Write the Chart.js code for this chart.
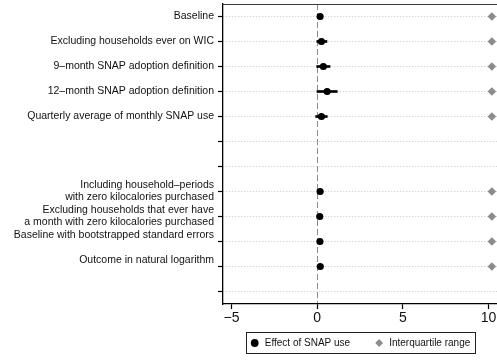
<!DOCTYPE html>
<html>
<head>
<meta charset="utf-8">
<script src="https://cdn.jsdelivr.net/npm/chart.js@4.4.0/dist/chart.umd.min.js"></script>
<style>
  html, body { margin: 0; padding: 0; background: #fff; }
  #wrap { width: 497px; height: 360px; position: relative; }
</style>
</head>
<body>
<div id="wrap"><canvas id="c" width="497" height="360"></canvas></div>
<script>
// Specifications, top to bottom (blank rows separate the two groups)
const rowLabels = [
  "Baseline",
  "Excluding households ever on WIC",
  "9–month SNAP adoption definition",
  "12–month SNAP adoption definition",
  "Quarterly average of monthly SNAP use",
  "",
  "",
  ["Including household–periods", "with zero kilocalories purchased"],
  ["Excluding households that ever have", "a month with zero kilocalories purchased"],
  ["Baseline with bootstrapped standard errors", ""],
  ["Outcome in natural logarithm", ""],
  ""
];

// Point estimates of the SNAP effect and their confidence bounds
const snapEffect = [0.17, 0.25, 0.36, 0.58, 0.25, null, null, 0.17, 0.15, 0.16, 0.18, null];
const ciLow      = [0.02, -0.02, -0.03, -0.01, -0.09, null, null, 0.00, -0.01, 0.01, 0.04, null];
const ciHigh     = [0.30, 0.57, 0.75, 1.17, 0.59, null, null, 0.33, 0.31, 0.31, 0.32, null];

// Interquartile range of the outcome, shown for scale
const iqrValues  = [10.2, 10.2, 10.2, 10.2, 10.2, null, null, 10.2, 10.2, 10.2, 10.2, null];

const xTicks = [-5, 0, 5, 10];

const FONT = '"Liberation Sans", Arial, Helvetica, sans-serif';
Chart.defaults.font.family = FONT;

const ciRanges = ciLow.map((lo, i) => (lo === null ? null : [lo, ciHigh[i]]));

// Centers the legend under the plot region, frames it, and closes the top of the plot
const framePlugin = {
  id: 'framePlugin',
  afterLayout(chart) {
    const lg = chart.legend;
    const a = chart.chartArea;
    if (!lg) return;
    // same center as the plot region, but wide enough to keep both items on one line
    lg.left = a.left - 40;
    lg.right = a.right + 40;
    lg.width = lg.right - lg.left;
    lg.top = a.bottom + 10;
    lg.bottom = chart.height;
    lg.height = lg.bottom - lg.top;
  },
  afterDraw(chart) {
    const ctx = chart.ctx;
    const a = chart.chartArea;
    ctx.save();
    // top edge of the plot region
    ctx.strokeStyle = '#3a3a3a';
    ctx.lineWidth = 1;
    ctx.beginPath();
    ctx.moveTo(a.left, a.top + 0.5);
    ctx.lineTo(a.right, a.top + 0.5);
    ctx.stroke();
    // legend frame
    const hb = chart.legend && chart.legend.legendHitBoxes;
    if (hb && hb.length) {
      const first = hb[0], last = hb[hb.length - 1];
      const cy = first.top + first.height / 2;
      const left = Math.round(first.left - 3) - 0.5;
      const right = Math.round(last.left + last.width + 5) + 0.5;
      const top = Math.round(cy - 11) + 0.5;
      const bottom = Math.round(cy + 10) + 0.5;
      ctx.strokeStyle = '#222';
      ctx.lineWidth = 1;
      ctx.strokeRect(left, top, right - left, bottom - top);
    }
    ctx.restore();
  }
};

new Chart(document.getElementById('c'), {
  type: 'bar',
  data: {
    labels: rowLabels,
    datasets: [
      {
        type: 'line',
        label: 'Effect of SNAP use',
        data: snapEffect,
        showLine: false,
        pointStyle: 'circle',
        pointRadius: 3.6,
        pointHoverRadius: 3.6,
        backgroundColor: '#000',
        borderColor: '#000',
        borderWidth: 0,
        pointBorderWidth: 0,
        order: 1
      },
      {
        type: 'line',
        label: 'Interquartile range',
        data: iqrValues,
        showLine: false,
        pointStyle: 'rectRot',
        pointRadius: 4.3,
        pointHoverRadius: 4.3,
        backgroundColor: '#8c8c8c',
        borderColor: '#8c8c8c',
        borderWidth: 0,
        pointBorderWidth: 0,
        order: 2
      },
      {
        type: 'bar',
        label: 'ci',
        data: ciRanges,
        backgroundColor: '#000',
        borderWidth: 0,
        barThickness: 2,
        order: 3
      }
    ]
  },
  options: {
    responsive: false,
    animation: false,
    indexAxis: 'y',
    devicePixelRatio: 1,
    layout: { autoPadding: false, padding: { top: 4, right: 0, bottom: 0, left: 0 } },
    plugins: {
      tooltip: { enabled: false },
      legend: {
        position: 'bottom',
        maxHeight: 30,
        labels: {
          usePointStyle: true,
          boxHeight: 5.5,
          padding: 24,
          color: '#111',
          font: { size: 10, family: FONT },
          filter: (item) => item.text !== 'ci'
        }
      }
    },
    scales: {
      x: {
        type: 'linear',
        min: -5.5,
        max: 10.5,
        afterBuildTicks: (s) => { s.ticks = xTicks.map(v => ({ value: v })); },
        afterFit: (s) => { s.height = 26; s.paddingLeft = 0; s.paddingRight = 0; },
        ticks: {
          autoSkip: false,
          maxRotation: 0,
          padding: 1,
          color: '#111',
          font: { size: 14, family: FONT },
          callback: (v) => String(v).replace('-', '\u2212')
        },
        grid: {
          color: (c) => (c.tick && c.tick.value === 0 ? '#8a8a8a' : 'rgba(0,0,0,0)'),
          lineWidth: 1,
          tickColor: '#000',
          tickLength: 5,
          tickWidth: 1.2,
          tickBorderDash: []
        },
        border: { color: '#000', width: 1.3, dash: [6, 3] }
      },
      y: {
        type: 'category',
        offset: true,
        afterFit: (s) => { s.width = 223; s.paddingTop = 0; s.paddingBottom = 0; },
        ticks: {
          autoSkip: false,
          padding: 4,
          color: '#111',
          font: { size: 10.5, lineHeight: 1.15, family: FONT }
        },
        grid: {
          offset: false,
          color: '#c4c4c4',
          lineWidth: 1,
          tickColor: '#000',
          tickLength: 5,
          tickWidth: 1.2,
          tickBorderDash: []
        },
        border: { color: '#000', width: 1.3, dash: [1, 2] }
      }
    }
  },
  plugins: [framePlugin]
});
</script>
</body>
</html>
